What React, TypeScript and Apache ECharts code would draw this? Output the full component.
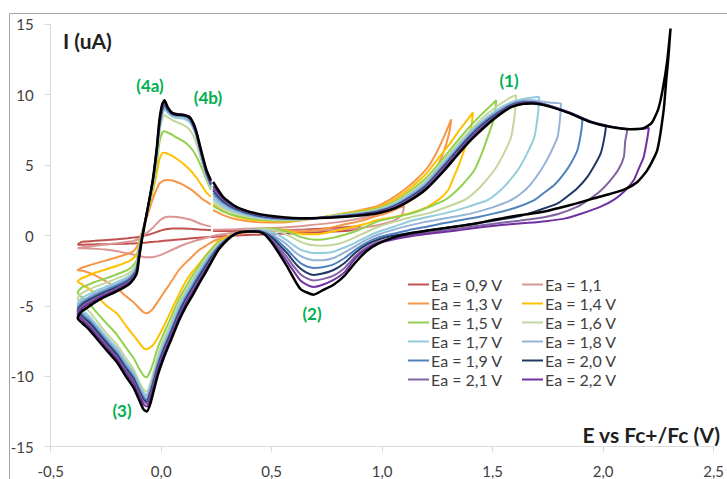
import React, { useEffect, useRef } from "react";
import * as echarts from "echarts";

// Shared potential grids (V) for the three scan segments
const X_FWD1 = [0.235, 0.28, 0.34, 0.43, 0.53, 0.65, 0.8];
const X_REV = [0.83, 0.78, 0.73, 0.69, 0.66, 0.63, 0.6, 0.57, 0.53, 0.5, 0.47, 0.44, 0.39, 0.34, 0.3, 0.26, 0.23, 0.2, 0.17, 0.14, 0.11, 0.08, 0.045, 0.01, -0.015, -0.035, -0.05, -0.065, -0.08, -0.1, -0.125, -0.16, -0.2, -0.25, -0.29, -0.325, -0.355, -0.378];
const X_FWD2 = [-0.36, -0.338, -0.3, -0.26, -0.2, -0.15, -0.125, -0.11, -0.1, -0.085, -0.06, -0.038, -0.02, -0.008, 0.005, 0.015, 0.03, 0.05, 0.07, 0.1, 0.127, 0.145, 0.16, 0.175, 0.19, 0.205, 0.225];

const NAMES = ["Ea = 0,9 V", "Ea = 1,1", "Ea = 1,3 V", "Ea = 1,4 V", "Ea = 1,5 V", "Ea = 1,6 V", "Ea = 1,7 V", "Ea = 1,8 V", "Ea = 1,9 V", "Ea = 2,0 V", "Ea = 2,1 V", "Ea = 2,2 V", "Ea = 2,3 V"];
const COLORS = ["#C0504D", "#DA9694", "#F79646", "#FFC000", "#92D050", "#C3D69B", "#93CDDD", "#95B3D7", "#4F81BD", "#1F3864", "#8064A2", "#7030A0", "#000000"];

// first forward scan (I, uA) on X_FWD1
const F1_09 = [0.32, 0.32, 0.32, 0.33, 0.36, 0.42, 0.55];
const F1_11 = [0.4, 0.42, 0.45, 0.5, 0.55, 0.7, 0.95];
const F1_13 = [1.8, 1.45, 1.15, 0.95, 0.92, 1.1, 1.5];
const F1_14 = [2.2, 1.75, 1.35, 1.08, 1.0, 1.12, 1.48];
const F1_15 = [2.1, 1.7, 1.4, 1.15, 1.05, 1.14, 1.45];
const F1_16 = [2.4, 1.9, 1.55, 1.25, 1.1, 1.15, 1.42];
const F1_17 = [2.6, 2.05, 1.65, 1.3, 1.14, 1.16, 1.4];
const F1_18 = [2.8, 2.2, 1.75, 1.35, 1.17, 1.17, 1.38];
const F1_19 = [3.0, 2.35, 1.82, 1.4, 1.2, 1.18, 1.36];
const F1_20 = [3.2, 2.45, 1.9, 1.45, 1.24, 1.2, 1.35];
const F1_21 = [3.35, 2.55, 1.95, 1.5, 1.27, 1.2, 1.33];
const F1_22 = [3.5, 2.65, 2.0, 1.55, 1.3, 1.22, 1.32];
const F1_23 = [3.8, 2.75, 2.04, 1.57, 1.33, 1.22, 1.3];

// upper part: rise to the switching potential and start of the reverse scan, [E, I]
const UP_09 = [[0.86, 0.62], [0.9, 0.7], [0.89, 0.5], [0.86, 0.38]];
const UP_11 = [[0.9, 1.2], [0.98, 1.45], [1.04, 1.75], [1.1, 2.1], [1.09, 1.5], [1.06, 1.1], [1.0, 0.8], [0.93, 0.6], [0.88, 0.5]];
const UP_13 = [[0.9, 1.8], [0.98, 2.1], [1.06, 2.8], [1.12, 3.5], [1.163, 4.1], [1.209, 4.9], [1.25, 6.0], [1.285, 7.2], [1.313, 8.24], [1.305, 7.4], [1.29, 6.5], [1.27, 5.6], [1.24, 4.6], [1.2, 3.6], [1.15, 2.8], [1.1, 2.2], [1.04, 1.7], [0.98, 1.4], [0.93, 1.15], [0.88, 0.95]];
const UP_14 = [[0.9, 1.75], [0.98, 2.0], [1.06, 2.6], [1.13, 3.4], [1.2, 4.4], [1.26, 5.6], [1.31, 6.6], [1.35, 7.5], [1.39, 8.3], [1.411, 8.75], [1.405, 7.9], [1.389, 7.0], [1.37, 6.0], [1.344, 4.88], [1.32, 4.0], [1.299, 3.23], [1.26, 2.6], [1.2, 2.0], [1.13, 1.6], [1.05, 1.3], [0.98, 1.1], [0.93, 0.85], [0.88, 0.65]];
const UP_15 = [[0.9, 1.68], [0.98, 1.92], [1.06, 2.45], [1.13, 3.2], [1.2, 4.1], [1.28, 5.55], [1.34, 6.7], [1.4, 7.8], [1.45, 8.6], [1.49, 9.2], [1.516, 9.61], [1.508, 8.4], [1.478, 7.01], [1.45, 5.8], [1.418, 4.65], [1.36, 3.55], [1.32, 2.95], [1.283, 2.52], [1.2, 1.95], [1.133, 1.57], [1.06, 1.3], [0.98, 1.0], [0.93, 0.65], [0.88, 0.3]];
const UP_16 = [[0.9, 1.62], [0.98, 1.85], [1.06, 2.35], [1.13, 3.08], [1.2, 3.95], [1.28, 5.35], [1.34, 6.45], [1.4, 7.5], [1.45, 8.3], [1.5, 8.95], [1.55, 9.5], [1.58, 9.8], [1.606, 9.97], [1.6, 8.6], [1.584, 7.01], [1.55, 5.8], [1.508, 4.65], [1.45, 3.55], [1.41, 2.95], [1.373, 2.52], [1.28, 1.95], [1.208, 1.57], [1.13, 1.3], [1.05, 0.95], [0.98, 0.6], [0.93, 0.25], [0.88, -0.1]];
const UP_17 = [[0.9, 1.58], [0.98, 1.8], [1.06, 2.28], [1.13, 2.98], [1.2, 3.8], [1.28, 5.2], [1.34, 6.3], [1.4, 7.35], [1.45, 8.1], [1.5, 8.72], [1.55, 9.2], [1.59, 9.5], [1.64, 9.7], [1.68, 9.8], [1.711, 9.85], [1.705, 8.6], [1.689, 7.01], [1.655, 5.8], [1.614, 4.65], [1.56, 3.6], [1.52, 3.0], [1.478, 2.52], [1.38, 2.0], [1.283, 1.57], [1.2, 1.3], [1.12, 1.0], [1.05, 0.6], [0.98, 0.25], [0.93, -0.1], [0.88, -0.5]];
const UP_18 = [[0.9, 1.55], [0.98, 1.76], [1.06, 2.2], [1.13, 2.88], [1.2, 3.7], [1.28, 5.1], [1.34, 6.2], [1.4, 7.25], [1.45, 8.0], [1.5, 8.6], [1.55, 9.1], [1.59, 9.42], [1.64, 9.6], [1.68, 9.6], [1.72, 9.52], [1.77, 9.42], [1.809, 9.38], [1.805, 8.3], [1.794, 7.01], [1.76, 5.8], [1.719, 4.65], [1.67, 3.6], [1.63, 3.0], [1.584, 2.52], [1.5, 2.0], [1.404, 1.57], [1.33, 1.35], [1.26, 1.15], [1.19, 0.95], [1.12, 0.7], [1.05, 0.4], [0.98, 0.05], [0.93, -0.3], [0.88, -0.75]];
const UP_19 = [[0.9, 1.52], [0.98, 1.72], [1.06, 2.15], [1.13, 2.8], [1.2, 3.6], [1.28, 5.0], [1.34, 6.1], [1.4, 7.15], [1.45, 7.9], [1.5, 8.5], [1.55, 9.0], [1.59, 9.33], [1.64, 9.5], [1.68, 9.48], [1.72, 9.38], [1.77, 9.16], [1.84, 8.78], [1.88, 8.5], [1.906, 8.25], [1.9, 7.3], [1.884, 6.07], [1.855, 5.15], [1.824, 4.41], [1.78, 3.6], [1.73, 3.0], [1.689, 2.52], [1.6, 1.95], [1.508, 1.57], [1.43, 1.3], [1.35, 1.08], [1.27, 0.85], [1.2, 0.62], [1.12, 0.38], [1.05, 0.12], [0.98, -0.15], [0.93, -0.5], [0.88, -1.0]];
const UP_20 = [[0.9, 1.5], [0.98, 1.68], [1.06, 2.1], [1.13, 2.72], [1.2, 3.52], [1.28, 4.9], [1.34, 6.0], [1.4, 7.05], [1.45, 7.8], [1.5, 8.42], [1.55, 8.95], [1.59, 9.28], [1.64, 9.45], [1.68, 9.45], [1.72, 9.36], [1.77, 9.15], [1.85, 8.72], [1.94, 8.12], [1.99, 7.85], [2.012, 7.75], [2.005, 6.9], [1.989, 5.83], [1.96, 4.95], [1.929, 4.17], [1.88, 3.3], [1.84, 2.8], [1.794, 2.28], [1.7, 1.75], [1.614, 1.34], [1.53, 1.12], [1.45, 0.92], [1.37, 0.73], [1.29, 0.55], [1.21, 0.38], [1.13, 0.2], [1.05, -0.02], [0.98, -0.3], [0.93, -0.65], [0.88, -1.2]];
const UP_21 = [[0.9, 1.47], [0.98, 1.65], [1.06, 2.05], [1.13, 2.65], [1.2, 3.45], [1.28, 4.8], [1.34, 5.9], [1.4, 6.95], [1.45, 7.7], [1.5, 8.35], [1.55, 8.9], [1.59, 9.24], [1.64, 9.42], [1.68, 9.43], [1.72, 9.35], [1.77, 9.14], [1.85, 8.71], [1.94, 8.11], [2.03, 7.75], [2.08, 7.6], [2.109, 7.5], [2.1, 6.7], [2.094, 5.59], [2.07, 4.7], [2.034, 3.94], [1.99, 3.2], [1.94, 2.6], [1.884, 2.05], [1.8, 1.55], [1.704, 1.22], [1.62, 1.05], [1.54, 0.9], [1.46, 0.74], [1.38, 0.57], [1.3, 0.4], [1.22, 0.24], [1.14, 0.07], [1.06, -0.15], [0.98, -0.45], [0.93, -0.85], [0.88, -1.45]];
const UP_22 = [[0.9, 1.45], [0.98, 1.62], [1.06, 2.0], [1.13, 2.58], [1.2, 3.38], [1.28, 4.7], [1.34, 5.8], [1.4, 6.85], [1.45, 7.6], [1.5, 8.28], [1.55, 8.85], [1.59, 9.2], [1.64, 9.4], [1.68, 9.42], [1.72, 9.34], [1.77, 9.13], [1.85, 8.7], [1.94, 8.1], [2.03, 7.74], [2.12, 7.57], [2.18, 7.58], [2.207, 7.65], [2.2, 6.9], [2.184, 5.6], [2.16, 4.7], [2.139, 3.94], [2.1, 3.2], [2.05, 2.55], [1.989, 2.05], [1.9, 1.55], [1.824, 1.2], [1.74, 1.02], [1.66, 0.9], [1.58, 0.8], [1.5, 0.68], [1.43, 0.55], [1.36, 0.4], [1.28, 0.25], [1.2, 0.1], [1.13, -0.05], [1.05, -0.28], [0.98, -0.55], [0.93, -0.95], [0.88, -1.6]];
const UP_23 = [[0.9, 1.42], [0.98, 1.58], [1.06, 1.95], [1.13, 2.52], [1.2, 3.3], [1.28, 4.6], [1.34, 5.7], [1.4, 6.75], [1.45, 7.5], [1.5, 8.2], [1.55, 8.8], [1.59, 9.15], [1.64, 9.35], [1.68, 9.38], [1.72, 9.3], [1.77, 9.1], [1.85, 8.67], [1.94, 8.07], [2.03, 7.72], [2.12, 7.55], [2.18, 7.6], [2.22, 8.0], [2.25, 9.0], [2.27, 10.4], [2.29, 12.4], [2.305, 14.7], [2.295, 12.6], [2.287, 11.26], [2.274, 8.9], [2.245, 6.06], [2.2, 4.64], [2.155, 3.8], [2.1, 3.3], [2.03, 2.95], [1.95, 2.6], [1.88, 2.28], [1.8, 1.95], [1.73, 1.69], [1.65, 1.5], [1.58, 1.33], [1.5, 1.1], [1.43, 0.87], [1.36, 0.7], [1.28, 0.51], [1.2, 0.33], [1.13, 0.16], [1.05, -0.15], [0.98, -0.6], [0.93, -1.1], [0.88, -1.9]];

// reverse scan (I, uA) on X_REV
const RV_09 = [0.32, 0.28, 0.25, 0.22, 0.2, 0.18, 0.16, 0.14, 0.12, 0.1, 0.08, 0.06, 0.03, 0.0, -0.03, -0.07, -0.1, -0.13, -0.16, -0.2, -0.24, -0.28, -0.33, -0.38, -0.42, -0.45, -0.47, -0.5, -0.52, -0.54, -0.56, -0.58, -0.6, -0.62, -0.63, -0.64, -0.65, -0.65];
const RV_11 = [0.45, 0.4, 0.38, 0.36, 0.35, 0.35, 0.35, 0.35, 0.35, 0.35, 0.34, 0.32, 0.28, 0.22, 0.15, 0.05, -0.05, -0.18, -0.3, -0.45, -0.6, -0.8, -1.05, -1.3, -1.45, -1.52, -1.55, -1.55, -1.52, -1.45, -1.35, -1.25, -1.12, -1.0, -0.95, -0.92, -0.9, -0.9];
const RV_13 = [0.8, 0.6, 0.45, 0.35, 0.3, 0.28, 0.3, 0.33, 0.35, 0.35, 0.33, 0.3, 0.22, 0.1, -0.05, -0.25, -0.45, -0.75, -1.05, -1.5, -1.95, -2.45, -3.3, -4.1, -4.7, -5.15, -5.4, -5.52, -5.45, -5.15, -4.75, -4.3, -3.75, -3.25, -2.9, -2.65, -2.5, -2.45];
const RV_14 = [0.5, 0.3, 0.15, 0.08, 0.08, 0.12, 0.22, 0.35, 0.45, 0.48, 0.45, 0.4, 0.3, 0.15, -0.1, -0.4, -0.9, -1.45, -2.05, -2.6, -3.3, -4.2, -5.35, -6.5, -7.25, -7.75, -7.95, -8.07, -8.0, -7.6, -7.1, -6.4, -5.55, -4.95, -4.3, -3.8, -3.5, -3.27];
const RV_15 = [0.05, -0.15, -0.28, -0.3, -0.22, -0.1, 0.1, 0.28, 0.45, 0.5, 0.5, 0.45, 0.35, 0.15, -0.2, -0.5, -0.95, -1.5, -2.2, -2.9, -3.7, -4.55, -5.8, -7.0, -7.95, -9.0, -9.65, -10.06, -9.95, -9.45, -8.7, -7.95, -7.05, -6.2, -5.5, -4.85, -4.45, -4.05];
const RV_16 = [-0.45, -0.65, -0.72, -0.7, -0.6, -0.45, -0.2, 0.05, 0.3, 0.42, 0.45, 0.43, 0.35, 0.15, -0.2, -0.6, -1.1, -1.7, -2.4, -3.15, -3.95, -4.85, -6.15, -7.4, -8.55, -9.7, -10.55, -11.1, -10.95, -10.35, -9.5, -8.7, -7.75, -6.9, -6.1, -5.4, -4.95, -4.5];
const RV_17 = [-0.85, -1.15, -1.25, -1.25, -1.15, -1.0, -0.7, -0.35, 0.05, 0.25, 0.35, 0.38, 0.32, 0.15, -0.2, -0.65, -1.2, -1.85, -2.55, -3.35, -4.15, -5.05, -6.4, -7.7, -8.85, -9.95, -10.75, -11.3, -11.15, -10.55, -9.7, -8.95, -8.0, -7.15, -6.4, -5.75, -5.3, -4.85];
const RV_18 = [-1.2, -1.6, -1.75, -1.75, -1.65, -1.45, -1.1, -0.65, -0.2, 0.1, 0.27, 0.35, 0.3, 0.15, -0.2, -0.7, -1.3, -1.95, -2.7, -3.5, -4.3, -5.25, -6.6, -7.9, -9.0, -10.1, -10.9, -11.45, -11.3, -10.7, -9.85, -9.1, -8.15, -7.3, -6.55, -5.9, -5.5, -5.05];
const RV_19 = [-1.6, -2.05, -2.25, -2.3, -2.2, -1.95, -1.5, -1.0, -0.4, -0.05, 0.2, 0.33, 0.3, 0.15, -0.2, -0.8, -1.4, -2.1, -2.85, -3.65, -4.45, -5.4, -6.75, -8.05, -9.15, -10.3, -11.1, -11.65, -11.5, -10.9, -10.05, -9.3, -8.35, -7.45, -6.7, -6.05, -5.65, -5.22];
const RV_20 = [-1.95, -2.45, -2.7, -2.8, -2.65, -2.35, -1.85, -1.25, -0.6, -0.15, 0.15, 0.32, 0.3, 0.15, -0.25, -0.85, -1.5, -2.25, -3.0, -3.8, -4.6, -5.55, -6.9, -8.2, -9.3, -10.45, -11.25, -11.8, -11.65, -11.05, -10.2, -9.45, -8.5, -7.6, -6.85, -6.2, -5.8, -5.38];
const RV_21 = [-2.3, -2.85, -3.1, -3.2, -3.05, -2.75, -2.2, -1.55, -0.8, -0.3, 0.1, 0.3, 0.3, 0.14, -0.25, -0.9, -1.6, -2.4, -3.15, -3.95, -4.75, -5.7, -7.05, -8.35, -9.45, -10.6, -11.4, -11.95, -11.8, -11.2, -10.35, -9.6, -8.65, -7.75, -7.0, -6.35, -5.92, -5.5];
const RV_22 = [-2.6, -3.15, -3.5, -3.65, -3.5, -3.2, -2.55, -1.85, -1.0, -0.4, 0.08, 0.28, 0.28, 0.13, -0.3, -0.95, -1.7, -2.5, -3.3, -4.1, -4.9, -5.85, -7.2, -8.5, -9.6, -10.8, -11.6, -12.15, -12.0, -11.35, -10.5, -9.75, -8.8, -7.9, -7.15, -6.5, -6.05, -5.65];
const RV_23 = [-2.85, -3.5, -3.9, -4.2, -4.05, -3.8, -3.05, -2.2, -1.2, -0.5, 0.05, 0.27, 0.28, 0.15, -0.3, -1.0, -1.8, -2.65, -3.45, -4.3, -5.1, -6.05, -7.4, -8.75, -9.9, -11.1, -12.0, -12.5, -12.35, -11.67, -10.8, -10.0, -9.0, -8.1, -7.35, -6.7, -6.25, -5.87];

// final forward scan (I, uA) on X_FWD2
const F2_09 = [-0.45, -0.42, -0.38, -0.33, -0.27, -0.2, -0.15, -0.12, -0.09, -0.05, 0.05, 0.15, 0.25, 0.32, 0.38, 0.42, 0.46, 0.49, 0.5, 0.5, 0.48, 0.46, 0.44, 0.42, 0.41, 0.4, 0.39];
const F2_11 = [-0.85, -0.8, -0.72, -0.65, -0.55, -0.45, -0.38, -0.3, -0.2, -0.05, 0.25, 0.55, 0.85, 1.05, 1.2, 1.28, 1.33, 1.34, 1.32, 1.25, 1.15, 1.05, 0.95, 0.85, 0.77, 0.7, 0.63];
const F2_13 = [-2.3, -2.18, -2.0, -1.82, -1.55, -1.3, -1.1, -0.8, -0.4, 0.3, 1.5, 2.6, 3.3, 3.7, 3.85, 3.92, 3.95, 3.9, 3.8, 3.6, 3.35, 3.15, 2.95, 2.75, 2.55, 2.4, 2.2];
const F2_14 = [-3.05, -2.9, -2.65, -2.45, -2.15, -1.85, -1.6, -1.3, -0.6, 0.3, 1.7, 3.1, 4.4, 5.4, 5.85, 5.88, 5.8, 5.65, 5.45, 5.1, 4.7, 4.4, 4.1, 3.75, 3.4, 3.05, 2.75];
const F2_15 = [-3.7, -3.55, -3.3, -3.1, -2.75, -2.42, -2.1, -1.7, -0.7, 0.3, 1.8, 3.3, 5.0, 6.6, 7.3, 7.4, 7.3, 7.15, 6.95, 6.7, 6.35, 6.0, 5.6, 5.1, 4.55, 3.95, 3.25];
const F2_16 = [-4.1, -3.92, -3.65, -3.42, -3.05, -2.7, -2.35, -1.9, -0.85, 0.25, 1.9, 3.55, 5.4, 7.2, 8.3, 8.55, 8.4, 8.2, 8.05, 7.85, 7.55, 7.1, 6.5, 5.7, 4.9, 4.1, 3.35];
const F2_17 = [-4.45, -4.25, -3.95, -3.7, -3.3, -2.92, -2.55, -2.1, -1.0, 0.2, 2.0, 3.7, 5.7, 7.5, 8.6, 8.95, 8.7, 8.45, 8.35, 8.3, 8.05, 7.6, 6.95, 6.0, 5.05, 4.2, 3.42];
const F2_18 = [-4.65, -4.45, -4.12, -3.85, -3.45, -3.05, -2.65, -2.2, -1.1, 0.15, 2.0, 3.75, 5.8, 7.65, 8.75, 9.1, 8.8, 8.55, 8.47, 8.42, 8.2, 7.7, 7.05, 6.1, 5.15, 4.3, 3.5];
const F2_19 = [-4.8, -4.58, -4.25, -3.97, -3.55, -3.15, -2.75, -2.3, -1.2, 0.1, 2.0, 3.8, 5.9, 7.8, 8.9, 9.25, 8.9, 8.6, 8.52, 8.5, 8.3, 7.8, 7.15, 6.2, 5.25, 4.4, 3.58];
const F2_20 = [-4.95, -4.7, -4.38, -4.08, -3.66, -3.25, -2.85, -2.38, -1.3, 0.05, 2.0, 3.85, 6.0, 7.9, 9.0, 9.35, 8.95, 8.65, 8.58, 8.55, 8.35, 7.85, 7.2, 6.25, 5.3, 4.45, 3.65];
const F2_21 = [-5.05, -4.82, -4.48, -4.18, -3.75, -3.33, -2.92, -2.45, -1.4, 0.0, 2.0, 3.9, 6.1, 8.0, 9.1, 9.42, 9.0, 8.7, 8.62, 8.58, 8.4, 7.9, 7.25, 6.3, 5.35, 4.5, 3.72];
const F2_22 = [-5.2, -4.95, -4.6, -4.28, -3.85, -3.42, -3.0, -2.55, -1.5, -0.05, 2.0, 3.94, 6.2, 8.1, 9.2, 9.5, 9.05, 8.72, 8.65, 8.6, 8.45, 7.95, 7.3, 6.35, 5.4, 4.55, 3.8];
const F2_23 = [-5.4, -5.16, -4.75, -4.4, -3.95, -3.51, -3.1, -2.68, -1.6, -0.1, 2.0, 3.94, 6.2, 8.19, 9.35, 9.6, 9.1, 8.7, 8.6, 8.55, 8.43, 8.0, 7.35, 6.4, 5.5, 4.65, 3.9];

const F1 = [F1_09, F1_11, F1_13, F1_14, F1_15, F1_16, F1_17, F1_18, F1_19, F1_20, F1_21, F1_22, F1_23];
const UP = [UP_09, UP_11, UP_13, UP_14, UP_15, UP_16, UP_17, UP_18, UP_19, UP_20, UP_21, UP_22, UP_23];
const RV = [RV_09, RV_11, RV_13, RV_14, RV_15, RV_16, RV_17, RV_18, RV_19, RV_20, RV_21, RV_22, RV_23];
const F2 = [F2_09, F2_11, F2_13, F2_14, F2_15, F2_16, F2_17, F2_18, F2_19, F2_20, F2_21, F2_22, F2_23];

const LEGEND_LEFT = ["Ea = 0,9 V", "Ea = 1,3 V", "Ea = 1,5 V", "Ea = 1,7 V", "Ea = 1,9 V", "Ea = 2,1 V"];
const LEGEND_RIGHT = ["Ea = 1,1", "Ea = 1,4 V", "Ea = 1,6 V", "Ea = 1,8 V", "Ea = 2,0 V", "Ea = 2,2 V"];

const ANNOTATIONS = [
  { text: "(4a)", x: 150, y: 85 },
  { text: "(4b)", x: 208, y: 97 },
  { text: "(1)", x: 509, y: 80 },
  { text: "(2)", x: 312, y: 313 },
  { text: "(3)", x: 122, y: 410 },
];

const FONT = "Lato, 'Open Sans', sans-serif";

function zip(xs: number[], ys: number[]) {
  return xs.map((x, i) => [x, ys[i]]);
}

export default function App() {
  const ref = useRef<HTMLDivElement>(null);
  useEffect(() => {
    const chart = echarts.init(ref.current!, null, { renderer: "svg" });
    const series = NAMES.map((name, k) => ({
      type: "line",
      name,
      data: [...zip(X_FWD1, F1[k]), ...UP[k], ...zip(X_REV, RV[k]), ...zip(X_FWD2, F2[k])],
      showSymbol: false,
      symbol: "none",
      smooth: 0.2,
      silent: true,
      lineStyle: { color: COLORS[k], width: k === 12 ? 2.5 : 2 },
      itemStyle: { color: COLORS[k] },
      z: 2 + k,
    }));
    const legendCommon = {
      orient: "vertical",
      top: 276.5,
      itemWidth: 21,
      itemHeight: 2,
      icon: "rect",
      itemGap: 3,
      padding: 0,
      selectedMode: false,
      textStyle: { fontFamily: FONT, fontSize: 16, lineHeight: 15.7, color: "#404040", padding: [0, 0, 0, -3] },
    };
    chart.setOption({
      animation: false,
      backgroundColor: "#ffffff",
      textStyle: { fontFamily: FONT },
      grid: { left: 50.7, right: 10.3, top: 24.3, bottom: 32.3, containLabel: false },
      xAxis: {
        type: "value",
        min: -0.5,
        max: 2.5,
        interval: 0.5,
        axisLine: { onZero: false, lineStyle: { color: "#D9D9D9", width: 1 } },
        axisTick: { show: true, length: 5, lineStyle: { color: "#D9D9D9" } },
        splitLine: { show: false },
        axisLabel: {
          formatter: (v: number) => v.toFixed(1).replace(".", ","),
          color: "#404040",
          fontSize: 15,
          fontFamily: FONT,
          margin: 17,
        },
      },
      yAxis: {
        type: "value",
        min: -15,
        max: 15,
        interval: 5,
        axisLine: { show: true, onZero: false, lineStyle: { color: "#D9D9D9", width: 1 } },
        axisTick: { show: true, length: 6, lineStyle: { color: "#D9D9D9" } },
        splitLine: { show: false },
        axisLabel: { color: "#404040", fontSize: 15, fontFamily: FONT, margin: 17 },
      },
      legend: [
        { ...legendCommon, left: 408, data: LEGEND_LEFT },
        { ...legendCommon, left: 522, data: LEGEND_RIGHT },
      ],
      graphic: [
        {
          type: "rect",
          silent: true,
          shape: { x: 9.5, y: 13.5, width: 800, height: 600 },
          style: { fill: "none", stroke: "#A6A6A6", lineWidth: 1 },
          z: 0,
        },
        {
          type: "text",
          x: 63,
          y: 40,
          silent: true,
          style: {
            text: "I (uA)",
            fontFamily: FONT,
            fontSize: 21,
            fontWeight: "bold",
            fill: "#1F1F1F",
            textVerticalAlign: "middle",
            verticalAlign: "middle",
          },
        },
        {
          type: "text",
          x: 720,
          y: 434,
          silent: true,
          style: {
            text: "E vs Fc+/Fc (V)",
            fontFamily: FONT,
            fontSize: 21,
            fontWeight: "bold",
            fill: "#1F1F1F",
            textAlign: "right",
            align: "right",
            textVerticalAlign: "middle",
            verticalAlign: "middle",
          },
        },
        ...ANNOTATIONS.map((a) => ({
          type: "text",
          x: a.x,
          y: a.y,
          silent: true,
          z: 50,
          style: {
            text: a.text,
            fontFamily: FONT,
            fontSize: 17,
            fontWeight: "bold",
            fill: "#00B050",
            textAlign: "center",
            align: "center",
            textVerticalAlign: "middle",
            verticalAlign: "middle",
          },
        })),
      ],
      series,
    });
    return () => chart.dispose();
  }, []);
  return <div ref={ref} style={{ position: "fixed", left: 0, top: 0, width: 727, height: 479 }} />;
}
